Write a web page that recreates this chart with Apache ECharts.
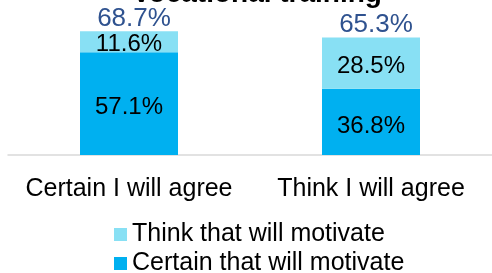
<!DOCTYPE html>
<html>
<head>
<meta charset="utf-8">
<script src="https://cdn.jsdelivr.net/npm/echarts@6/dist/echarts.min.js"></script>
<style>
  html, body { margin: 0; padding: 0; background: #fff; }
  #chart { width: 492px; height: 273px; }
</style>
</head>
<body>
<div id="chart"></div>
<script>
// data
const categories = ['Certain I will agree', 'Think I will agree']
const certain = [57.1, 36.8]
const think = [11.6, 28.5]
const totals = [68.7, 65.3]

const font = 'Liberation Sans, Arial, sans-serif'

const myChart = echarts.init(document.getElementById('chart'))

const legendBase = {
    left: 109,
    itemWidth: 13,
    itemHeight: 13,
    itemGap: 6,
    icon: 'rect',
    textStyle: { fontFamily: font, fontSize: 25, color: '#000' }
}

const option = {
    animation: false,
    title: {
        text: 'Vocational training',
        left: 127,
        top: -25,
        textStyle: { fontFamily: font, fontSize: 28, fontWeight: 'bold', color: '#000' }
    },
    grid: { left: 8, right: -5, top: 11, bottom: 118 },
    legend: [
        Object.assign({}, legendBase, { data: ['Think that will motivate'], top: 217 }),
        Object.assign({}, legendBase, { data: ['Certain that will motivate'], top: 246 })
    ],
    xAxis: {
        type: 'category',
        data: categories,
        axisLine: { lineStyle: { color: '#d9d9d9', width: 1.5 } },
        axisTick: { show: false },
        axisLabel: { fontFamily: font, fontSize: 25, color: '#000', margin: 22, interval: 0 }
    },
    yAxis: {
        type: 'value',
        min: 0,
        max: 80,
        show: false
    },
    series: [
        {
            name: 'Certain that will motivate',
            type: 'bar',
            stack: 'total',
            barWidth: 98,
            data: certain,
            itemStyle: { color: '#00B0F0' },
            label: {
                show: true,
                position: 'inside',
                offset: [0, 4],
                formatter: p => p.value.toFixed(1) + '%',
                fontFamily: font, fontSize: 24, color: '#000'
            }
        },
        {
            name: 'Think that will motivate',
            type: 'bar',
            stack: 'total',
            barWidth: 98,
            data: think,
            itemStyle: { color: '#88E0F4' },
            label: {
                show: true,
                position: 'inside',
                offset: [0, 3],
                formatter: p => p.value.toFixed(1) + '%',
                fontFamily: font, fontSize: 24, color: '#000'
            }
        },
        {
            name: 'total',
            type: 'bar',
            stack: 'total',
            barWidth: 98,
            data: totals.map(() => 0),
            itemStyle: { color: 'transparent' },
            label: {
                show: true,
                position: 'top',
                distance: 0,
                offset: [5, 0],
                formatter: p => totals[p.dataIndex].toFixed(1) + '%',
                fontFamily: font, fontSize: 26, color: '#2F528F'
            }
        }
    ]
}

myChart.setOption(option)
</script>
</body>
</html>
